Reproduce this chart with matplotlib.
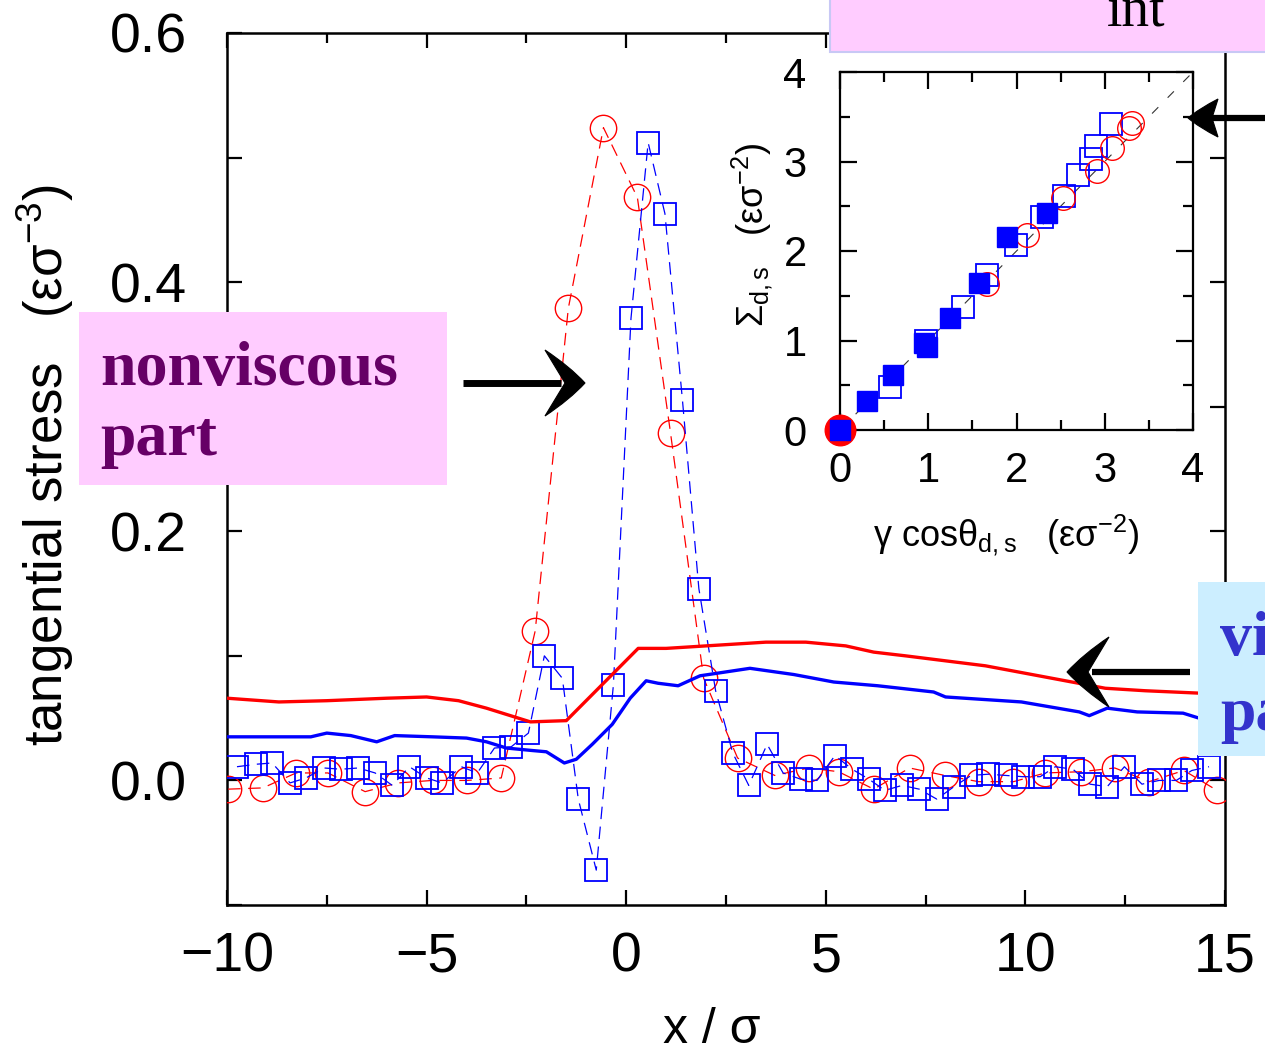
import numpy as np
import matplotlib
matplotlib.use("Agg")
import matplotlib.pyplot as plt
from matplotlib.patches import Rectangle, PathPatch
from matplotlib.path import Path
from matplotlib.lines import Line2D
from matplotlib.ticker import MultipleLocator, FormatStrFormatter

plt.rcParams['font.family'] = ['Liberation Sans', 'DejaVu Sans']
plt.rcParams['mathtext.fontset'] = 'custom'
plt.rcParams['mathtext.rm'] = 'Liberation Sans'
plt.rcParams['mathtext.it'] = 'Liberation Sans:italic'
plt.rcParams['mathtext.bf'] = 'Liberation Sans:bold'

# viscous part (solid lines)
red_line_x = [-10, -8.7, -7.5, -6.0, -5.0, -4.2, -3.5, -2.9, -2.4, -1.5, -0.6, 0.3, 1.0, 2.0,
              3.5, 4.5, 5.5, 6.2, 7.0, 8.0, 9.0, 10.0, 11.0, 12.0, 13.0, 14.4, 15.0]
red_line_y = [0.066, 0.063, 0.064, 0.066, 0.067, 0.064, 0.058, 0.052, 0.047, 0.048, 0.077, 0.106,
              0.106, 0.108, 0.111, 0.111, 0.108, 0.103, 0.100, 0.096, 0.092, 0.086, 0.080, 0.074,
              0.072, 0.070, 0.070]
blue_line_x = [-10, -9.0, -7.9, -7.5, -6.9, -6.25, -5.8, -4.85, -4.0, -3.5, -3.0, -2.35, -2.0,
               -1.55, -1.25, -0.85, -0.35, 0.1, 0.5, 0.8, 1.3, 1.85, 3.1, 4.2, 5.2, 6.3, 7.7,
               8.0, 9.9, 11.35, 11.6, 12.05, 12.8, 13.95, 14.35, 15.0]
blue_line_y = [0.035, 0.035, 0.035, 0.038, 0.036, 0.031, 0.036, 0.035, 0.034, 0.031, 0.026,
               0.024, 0.023, 0.014, 0.017, 0.029, 0.045, 0.066, 0.080, 0.078, 0.076, 0.084,
               0.090, 0.085, 0.079, 0.076, 0.071, 0.067, 0.063, 0.055, 0.052, 0.058, 0.055,
               0.054, 0.050, 0.048]

# nonviscous part (dashed with markers)
red_pts_x = [-9.97, -9.1, -8.27, -7.47, -6.54, -5.71, -4.85, -3.98, -3.13, -2.28, -1.45, -0.57,
             0.28, 1.11, 1.94, 2.79, 3.72, 4.57, 5.32, 6.2, 7.1, 7.98, 8.83, 9.7, 10.5, 11.4,
             12.24, 13.1, 13.97, 14.8]
red_pts_y = [-0.007, -0.006, 0.006, 0.006, -0.009, -0.002, 0.0, 0.0, 0.002, 0.12, 0.379, 0.524,
             0.468, 0.279, 0.082, 0.018, 0.004, 0.010, 0.007, -0.007, 0.010, 0.004, -0.001,
             -0.001, 0.006, 0.007, 0.010, -0.001, 0.008, -0.008]
blue_pts_x = [-9.75, -9.27, -8.87, -8.42, -8.02, -7.57, -7.14, -6.71, -6.29, -5.86,
              -5.43, -5.0, -4.61, -4.13, -3.73, -3.3, -2.88, -2.45, -2.05, -1.6,
              -1.2, -0.75, -0.32, 0.12, 0.55, 0.97, 1.41, 1.82, 2.24, 2.67,
              3.07, 3.53, 3.93, 4.37, 4.78, 5.23, 5.66, 6.08, 6.48, 6.91,
              7.34, 7.78, 8.21, 8.64, 9.07, 9.51, 9.94, 10.37, 10.75, 11.19,
              11.62, 12.05, 12.48, 12.92, 13.35, 13.78, 14.17, 14.6]
blue_pts_y = [0.011, 0.013, 0.014, -0.002, 0.002, 0.010, 0.009, 0.010, 0.006, -0.004,
              0.011, 0.002, -0.002, 0.011, 0.006, 0.026, 0.027, 0.038, 0.100, 0.082,
              -0.015, -0.072, 0.077, 0.371, 0.512, 0.455, 0.305, 0.154, 0.072, 0.022,
              -0.004, 0.029, 0.006, 0.001, 0.0, 0.020, 0.009, 0.001, -0.008, -0.004,
              -0.007, -0.015, -0.005, 0.004, 0.005, 0.004, 0.003, 0.003, 0.011, 0.009,
              -0.003, -0.005, 0.011, -0.003, 0.0, 0.0, 0.008, 0.011]

# inset
fill_sq_x = [0.0, 0.31, 0.60, 0.95, 0.99, 1.25, 1.57, 1.89, 2.35]
fill_sq_y = [0.0, 0.32, 0.62, 0.97, 0.93, 1.25, 1.64, 2.16, 2.43]
open_sq_x = [0.57, 0.98, 1.39, 1.67, 1.99, 2.29, 2.54, 2.70, 2.84, 2.90, 3.07]
open_sq_y = [0.48, 0.99, 1.37, 1.73, 2.07, 2.38, 2.61, 2.85, 3.03, 3.17, 3.42]
open_c_x = [1.67, 2.12, 2.53, 2.91, 3.08, 3.27, 3.31]
open_c_y = [1.63, 2.18, 2.59, 2.89, 3.15, 3.37, 3.43]
fill_c_x = [0.0]
fill_c_y = [0.0]

W, H = 1265, 1063
fig = plt.figure(figsize=(W / 100, H / 100), dpi=100)

def fx(px):
    return px / W

def fy(py):
    return 1 - py / H

# main axes
ax = fig.add_axes([fx(227), fy(905), (1225 - 227) / W, (905 - 33) / H])
ax.plot(red_line_x, red_line_y, color='red', lw=2.4, zorder=4)
ax.plot(blue_line_x, blue_line_y, color='blue', lw=2.4, zorder=4)
ax.plot(red_pts_x, red_pts_y, color='red', lw=0.9, ls=(0, (10, 6)), marker='o', ms=19,
        mfc='none', mec='red', mew=1.0, zorder=3)
ax.plot(blue_pts_x, blue_pts_y, color='blue', lw=0.9, ls=(0, (10, 6)), marker='s', ms=16,
        mfc='none', mec='blue', mew=1.3, zorder=3)
ax.set_xlim(-10, 15)
ax.set_ylim(-0.1, 0.6)
ax.xaxis.set_major_locator(MultipleLocator(5))
ax.xaxis.set_minor_locator(MultipleLocator(2.5))
ax.yaxis.set_major_locator(MultipleLocator(0.2))
ax.yaxis.set_minor_locator(MultipleLocator(0.1))
ax.yaxis.set_major_formatter(FormatStrFormatter('%.1f'))
ax.tick_params(which='both', direction='in', top=True, right=True, width=1.6)
ax.tick_params(axis='x', which='major', length=11, pad=19, labelsize=40)
ax.tick_params(axis='x', which='minor', length=7)
ax.tick_params(axis='y', which='both', length=11)
ax.tick_params(axis='y', which='major', pad=29, labelsize=40)
for s in ax.spines.values():
    s.set_linewidth(1.8)
ax.set_xlabel('x / σ', fontsize=36, va='center')
ax.xaxis.set_label_coords(0.486, -0.143)
ax.set_ylabel('tangential stress   (εσ$^{-3}$)', fontsize=38, va='center')
ax.yaxis.set_label_coords(-0.182, 0.505)

# inset
ax2 = fig.add_axes([fx(840), fy(430), (1193 - 840) / W, (430 - 72) / H])
ax2.axline((0, 0), slope=1, color='#333333', lw=0.8, ls=(0, (8, 12)), zorder=1)
ax2.plot(open_sq_x, open_sq_y, ls='none', marker='s', ms=16, mfc='none', mec='blue',
         mew=1.3, zorder=3)
ax2.plot(open_c_x, open_c_y, ls='none', marker='o', ms=17, mfc='none', mec='red',
         mew=1.0, zorder=3)
ax2.plot(fill_c_x, fill_c_y, ls='none', marker='o', ms=22, color='red', zorder=4,
         clip_on=False)
ax2.plot(fill_sq_x, fill_sq_y, ls='none', marker='s', ms=14, color='blue', zorder=5,
         clip_on=False)
ax2.set_xlim(0, 4)
ax2.set_ylim(0, 4)
ax2.xaxis.set_major_locator(MultipleLocator(1))
ax2.xaxis.set_minor_locator(MultipleLocator(0.5))
ax2.yaxis.set_major_locator(MultipleLocator(1))
ax2.yaxis.set_minor_locator(MultipleLocator(0.5))
ax2.tick_params(which='both', direction='in', top=True, right=True, width=1.6)
ax2.tick_params(which='major', length=12)
ax2.tick_params(which='minor', length=7)
ax2.tick_params(axis='x', which='major', pad=15, labelsize=30)
ax2.tick_params(axis='y', which='major', pad=24, labelsize=30)
for s in ax2.spines.values():
    s.set_linewidth(1.6)
ax2.set_xlabel('γ cosθ$_{\\rm d,s}$   (εσ$^{-2}$)', fontsize=26, va='center')
ax2.xaxis.set_label_coords(0.47, -0.294)
ax2.set_ylabel('Σ$_{\\rm d,s}$   (εσ$^{-2}$)', fontsize=26, va='center')
ax2.yaxis.set_label_coords(-0.249, 0.546)

# annotation boxes
def box(x0, y0, x1, y1, fc, ec='none'):
    r = Rectangle((fx(x0), fy(y1)), fx(x1) - fx(x0), fy(y0) - fy(y1), transform=fig.transFigure,
                  facecolor=fc, edgecolor=ec, lw=1.5, zorder=10)
    fig.add_artist(r)

box(830, -5, 1275, 52, '#FFCCFF', '#C8C8F5')
fig.text(fx(1107), fy(26), 'int', family='Liberation Serif', fontsize=40, color='black',
         va='baseline', ha='left', zorder=11)

box(79, 312, 447, 485, '#FFCCFF')
fig.text(fx(100), fy(385), 'nonviscous', family='Liberation Serif', weight='bold',
         fontsize=46, color='#660066', va='baseline', ha='left', zorder=11)
fig.text(fx(100), fy(455), 'part', family='Liberation Serif', weight='bold',
         fontsize=46, color='#660066', va='baseline', ha='left', zorder=11)

box(1198, 582, 1275, 756, '#CCEEFF')
fig.text(fx(1220), fy(655), 'viscous', family='Liberation Serif', weight='bold',
         fontsize=46, color='#3333CC', va='baseline', ha='left', zorder=11)
fig.text(fx(1220), fy(730), 'part', family='Liberation Serif', weight='bold',
         fontsize=46, color='#3333CC', va='baseline', ha='left', zorder=11)

# arrows with barbed heads, given in pixel units
def arrow(x_tail, x_tip, y, length, half, notch, lw):
    d = 1 if x_tip > x_tail else -1
    loc = [(0, 0), (-0.38 * length, 0.5 * half), (-length, half), (-notch * length, 0),
           (-length, -half), (-0.38 * length, -0.5 * half), (0, 0), (0, 0)]
    codes = [Path.MOVETO, Path.CURVE3, Path.CURVE3, Path.LINETO, Path.LINETO,
             Path.CURVE3, Path.CURVE3, Path.CLOSEPOLY]
    verts = [(fx(x_tip + d * lx), fy(y - ly)) for lx, ly in loc]
    head = PathPatch(Path(verts, codes), transform=fig.transFigure, facecolor='black',
                     edgecolor='black', lw=0.8, joinstyle='miter', zorder=12)
    fig.add_artist(head)
    shaft = Line2D([fx(x_tail), fx(x_tip - d * 0.6 * length)], [fy(y), fy(y)],
                   transform=fig.transFigure, color='black', lw=lw, solid_capstyle='butt',
                   zorder=12)
    fig.add_artist(shaft)

arrow(463, 585, 383, 40, 33, 0.5, 5.0)
arrow(1275, 1188, 118, 30, 19, 0.8, 4.5)
arrow(1190, 1067, 672, 42, 35, 0.5, 4.5)

fig.savefig('out.png', dpi=100)
